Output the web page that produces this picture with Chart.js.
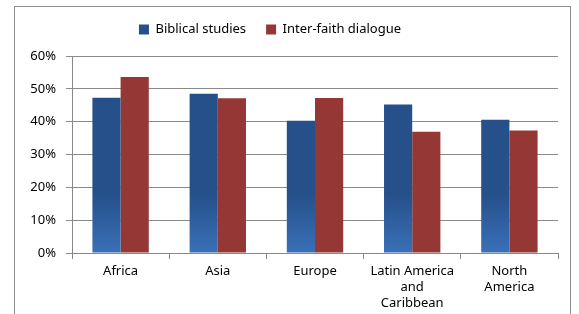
<!DOCTYPE html>
<html>
<head>
<meta charset="utf-8">
<script src="https://cdn.jsdelivr.net/npm/chart.js@4"></script>
<style>
  body { margin: 0; background: #fff; }
  #wrap { width: 579px; height: 314px; }
</style>
</head>
<body>
<div id="wrap"><canvas id="myChart" width="579" height="314"></canvas></div>
<script>
// regions and shares
let regions = ['Africa', 'Asia', 'Europe', ['Latin America', 'and', 'Caribbean'], ['North', 'America']];
let biblical = [0.473, 0.485, 0.403, 0.452, 0.406];
let interfaith = [0.536, 0.471, 0.472, 0.369, 0.373];
let yTicks = [0, 0.1, 0.2, 0.3, 0.4, 0.5, 0.6];

let fontFamily = '"Noto Sans", "Open Sans", sans-serif';

// blue bars fade to a lighter blue near the bottom
function blueFill(context) {
  let chart = context.chart;
  let area = chart.chartArea;
  if (!area) {
    return '#26538a';
  }
  let g = chart.ctx.createLinearGradient(0, area.top, 0, area.bottom);
  g.addColorStop(0, '#25508a');
  g.addColorStop(0.7, '#25508a');
  g.addColorStop(1, '#3a70b8');
  return g;
}

// outer frame round the whole chart
let framePlugin = {
  id: 'frame',
  beforeDraw(chart) {
    let ctx = chart.ctx;
    ctx.save();
    ctx.strokeStyle = '#8c8c8c';
    ctx.lineWidth = 1;
    ctx.strokeRect(14.5, 6.5, 556, 330);
    ctx.restore();
  }
};

// a bit more room under the legend, and nudge it left
let legendPlugin = {
  id: 'legendGap',
  beforeInit(chart) {
    let origFit = chart.legend.fit;
    chart.legend.fit = function () {
      origFit.bind(chart.legend)();
      this.height += 10;
    };
  },
  afterLayout(chart) {
    chart.legend.left -= 9;
    chart.legend.right -= 9;
  }
};

let ctx = document.getElementById('myChart').getContext('2d');
let myChart = new Chart(ctx, {
  type: 'bar',
  data: {
    labels: regions,
    datasets: [{
      label: 'Biblical studies',
      data: biblical,
      backgroundColor: blueFill,
      borderWidth: 0
    }, {
      label: 'Inter-faith dialogue',
      data: interfaith,
      backgroundColor: '#953735',
      borderWidth: 0
    }]
  },
  options: {
    responsive: false,
    animation: false,
    layout: {
      padding: { left: 0, right: 21, top: 3, bottom: 0 }
    },
    datasets: {
      bar: {
        categoryPercentage: 0.58,
        barPercentage: 1.0
      }
    },
    plugins: {
      legend: {
        position: 'top',
        labels: {
          boxWidth: 10,
          boxHeight: 10,
          padding: 20,
          color: '#000',
          font: { family: fontFamily, size: 13 }
        }
      },
      tooltip: { enabled: false }
    },
    scales: {
      x: {
        grid: {
          drawOnChartArea: false,
          color: '#888',
          tickLength: 6
        },
        border: { color: '#888' },
        ticks: {
          color: '#000',
          padding: 4,
          maxRotation: 0,
          font: { family: fontFamily, size: 13, lineHeight: 1.25 }
        },
        afterFit(scale) {
          scale.height = 61;
        }
      },
      y: {
        min: 0,
        max: 0.6,
        afterBuildTicks(scale) {
          scale.ticks = yTicks.map(v => ({ value: v }));
        },
        grid: {
          color: '#8a8a8a',
          tickLength: 6
        },
        border: { color: '#888' },
        ticks: {
          color: '#000',
          padding: 10,
          font: { family: fontFamily, size: 13 },
          callback: v => Math.round(v * 100) + '%'
        },
        afterFit(scale) {
          scale.width = 72;
        }
      }
    }
  },
  plugins: [framePlugin, legendPlugin]
});
</script>
</body>
</html>
